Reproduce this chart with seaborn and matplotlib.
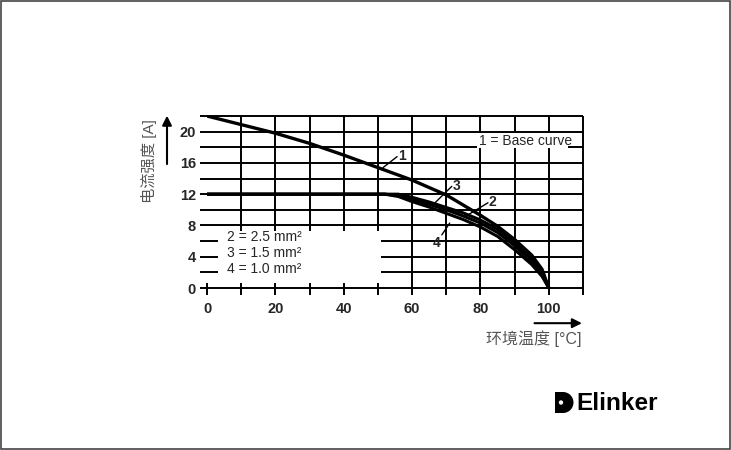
import matplotlib
matplotlib.use("Agg")
import matplotlib.pyplot as plt
import seaborn as sns
import pandas as pd
from matplotlib.patches import Rectangle, Wedge, Circle

# 数据
base_x = [0, 10, 20, 30, 40, 50, 60, 70, 80, 85, 90, 95, 98, 100]
base_y = [22, 20.9, 19.8, 18.5, 17.0, 15.4, 13.8, 11.9, 9.3, 7.9, 6.2, 4.2, 2.4, 0]

band_x = [0, 52, 56, 60, 65, 70, 75, 80, 85, 90, 95, 98, 100]
curve3_y = [12, 12, 12.0, 11.6, 11.0, 10.3, 9.6, 8.7, 7.5, 5.8, 3.7, 2.0, 0]
curve2_y = [12, 12, 11.85, 11.35, 10.7, 10.0, 9.2, 8.3, 7.1, 5.4, 3.4, 1.8, 0]
curve4_y = [12, 12, 11.7, 11.05, 10.35, 9.55, 8.75, 7.8, 6.6, 4.9, 3.0, 1.5, 0]

x_ticks = [0, 20, 40, 60, 80, 100]
y_ticks = [0, 4, 8, 12, 16, 20]
legend_lines = ["2 = 2.5 mm²", "3 = 1.5 mm²", "4 = 1.0 mm²"]
x_label = "环境温度 [°C]"
y_label = "电流强度 [A]"

sns.set_style("white")
plt.rcParams['font.family'] = ['Liberation Sans', 'Noto Sans CJK SC', 'DejaVu Sans']

fig = plt.figure(figsize=(7.31, 4.5), dpi=100)
ax = fig.add_axes([207 / 731, 1 - 288 / 450, 376 / 731, 172 / 450])

# 网格
for y in range(0, 23, 2):
    ax.hlines(y, -2, 110, color='black', lw=1.4, zorder=1, clip_on=False)
for x in range(10, 111, 10):
    ax.vlines(x, -0.9, 22, color='black', lw=1.4, zorder=1, clip_on=False)
ax.vlines(0, -0.9, 0.7, color='black', lw=1.4, zorder=1, clip_on=False)

# 白色区域
ax.add_patch(Rectangle((3.2, 0.7), 47.8, 6.6, facecolor='white', edgecolor='none', zorder=2))
ax.add_patch(Rectangle((79, 17.85), 26.5, 2.0, facecolor='white', edgecolor='none', zorder=2))

# 曲线
df = pd.DataFrame({'x': base_x, 'y': base_y})
sns.lineplot(data=df, x='x', y='y', color='black', lw=2.4, ax=ax, zorder=4)
for cy in [curve3_y, curve2_y, curve4_y]:
    d = pd.DataFrame({'x': band_x, 'y': cy})
    sns.lineplot(data=d, x='x', y='y', color='black', lw=2.2, ax=ax, zorder=4)

# 曲线标注
leaders = [((51.5, 15.4), (55.6, 16.8), "1"),
           ((66.7, 10.9), (71.6, 13.0), "3"),
           ((75.4, 9.1), (82.2, 10.9), "2"),
           ((71.0, 8.3), (68.7, 6.8), "4")]
for (x0, y0), (x1, y1), t in leaders:
    ax.plot([x0, x1], [y0, y1], color='black', lw=1.0, zorder=5)
for (x0, y0), (x1, y1), t in leaders:
    if t == "4":
        ax.text(x1 - 0.3, y1 - 0.1, t, ha='right', va='top', fontsize=10, fontweight='bold', zorder=6)
    else:
        ax.text(x1 + 0.2, y1 + 0.1, t, ha='left', va='center', fontsize=10, fontweight='bold', zorder=6)

ax.text(79.5, 18.8, "1 = Base curve", ha='left', va='center', fontsize=10, zorder=3)
for i, t in enumerate(legend_lines):
    ax.text(5.8, 6.5 - 2.05 * i, t, ha='left', va='center', fontsize=10, zorder=3)

ax.set_xlim(0, 110)
ax.set_ylim(0, 22)
ax.set_xticks(x_ticks)
ax.set_yticks(y_ticks)
ax.set_xticklabels([str(v) for v in x_ticks], fontsize=10.5, fontweight='bold')
ax.set_yticklabels([str(v) for v in y_ticks], fontsize=10.5, fontweight='bold')
ax.tick_params(length=0)
ax.tick_params(axis='x', pad=10)
ax.tick_params(axis='y', pad=8)
ax.set_xlabel('')
ax.set_ylabel('')
for s in ax.spines.values():
    s.set_visible(False)

# 坐标轴箭头与标签
ax.annotate('', xy=(-11.7, 22.4), xytext=(-11.7, 15.5),
            arrowprops=dict(arrowstyle='-|>', color='black', lw=1.5, mutation_scale=14),
            annotation_clip=False)
ax.annotate('', xy=(110.5, -4.5), xytext=(95, -4.5),
            arrowprops=dict(arrowstyle='-|>', color='black', lw=1.5, mutation_scale=14),
            annotation_clip=False)
ax.text(-17, 16.2, y_label, rotation=90, ha='center', va='center', fontsize=11,
        color='#555555', clip_on=False)
ax.text(109.5, -6.5, x_label, ha='right', va='center', fontsize=11.5,
        color='#555555', clip_on=False)

# 标志
W, H = 731, 450
fig.add_artist(Rectangle((555 / W, 1 - 413 / H), 8 / W, 21 / H, transform=fig.transFigure,
                         facecolor='black', edgecolor='none'))
fig.add_artist(Wedge((563, H - 402.5), 10.5, -90, 90, transform=None,
                     facecolor='black', edgecolor='none'))
fig.add_artist(Circle((561, H - 402.5), 2.2, transform=None,
                      facecolor='white', edgecolor='none'))
fig.text(576 / W, 1 - 403 / H, "Elinker", ha='left', va='center', fontsize=17.5,
         fontweight='bold', color='black')

# 边框
fig.add_artist(Rectangle((0.001, 0.002), 0.997, 0.995, transform=fig.transFigure,
                         facecolor='none', edgecolor='#444444', lw=1.2))

plt.savefig('out.png', dpi=100)
